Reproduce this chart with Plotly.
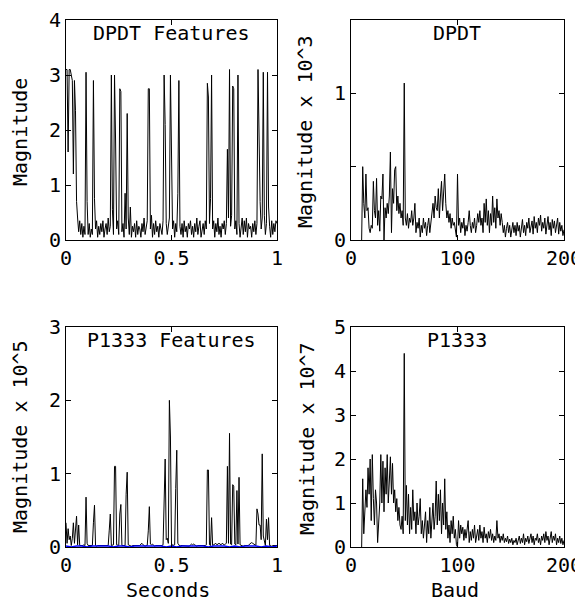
import plotly.graph_objects as go

# feature envelopes, sampled every 5 ms over one second
fs_feat = 200.0
dpdt_feat = [3.1, 3.1, 1.6, 3.1, 3.1, 3.0, 2.9, 1.2, 2.9, 2.35,
             0.7, 0.4, 0.15, 0.35, 0.1, 0.3, 0.05, 0.25, 0.1, 3.05,
             0.7, 0.1, 0.3, 0.05, 0.2, 0.1, 2.9, 0.75, 0.2, 0.35,
             0.05, 0.25, 0.1, 0.3, 0.15, 0.35, 0.05, 0.2, 0.3, 0.1,
             0.4, 0.15, 0.25, 3.0, 0.55, 0.1, 3.0, 1.8, 0.2, 0.35,
             0.1, 2.75, 2.7, 0.15, 0.3, 0.05, 0.85, 0.2, 2.3, 0.4,
             0.1, 0.6, 0.05, 0.25, 0.15, 0.3, 0.05, 0.35, 0.1, 0.25,
             0.2, 0.05, 0.3, 0.15, 0.4, 0.1, 0.25, 0.35, 2.75, 2.75,
             0.2, 0.45, 0.05, 0.3, 0.1, 0.35, 0.15, 0.25, 0.05, 0.3,
             0.2, 0.1, 0.35, 3.0, 2.1, 0.3, 0.1, 0.25, 0.4, 3.0,
             1.55, 0.2, 0.35, 0.05, 0.3, 0.15, 0.85, 2.9, 0.25, 0.1,
             0.3, 0.05, 0.35, 0.15, 0.25, 0.05, 0.3, 0.2, 0.35, 0.1,
             0.25, 0.05, 0.3, 0.15, 0.4, 0.1, 0.25, 0.35, 0.05, 0.2,
             0.3, 0.1, 0.35, 0.2, 2.85, 2.6, 0.3, 0.75, 3.0, 0.2,
             0.35, 0.05, 0.3, 0.15, 0.4, 0.1, 0.25, 0.05, 0.3, 0.2,
             0.35, 0.1, 0.3, 1.65, 0.4, 3.1, 0.25, 0.45, 2.8, 2.75,
             0.2, 0.35, 0.1, 3.0, 0.3, 0.05, 0.25, 0.4, 0.1, 0.35,
             0.15, 0.4, 0.05, 0.3, 0.2, 0.25, 0.05, 0.3, 0.15, 0.35,
             0.1, 0.3, 3.1, 1.35, 0.7, 0.2, 0.4, 3.05, 0.45, 0.1,
             0.3, 3.05, 0.6, 0.25, 0.05, 0.35, 0.1, 0.3, 0.15, 0.35,
             0.3]

# x 10^5
p1333_feat = [0.33, 0.05, 0.25, 0.1, 0.15, 0.02, 0.12, 0.33, 0.05, 0.32,
              0.42, 0.03, 0.3, 0.02, 0.02, 0.01, 0.02, 0.03, 0.02, 0.68,
              0.05, 0.02, 0.02, 0.01, 0.02, 0.02, 0.33, 0.57, 0.02, 0.01,
              0.02, 0.02, 0.01, 0.02, 0.02, 0.01, 0.02, 0.02, 0.01, 0.02,
              0.02, 0.23, 0.45, 0.02, 0.02, 0.03, 1.1, 1.1, 0.03, 0.02,
              0.02, 0.45, 0.58, 0.02, 0.02, 0.03, 0.02, 0.72, 1.02, 0.03,
              0.02, 0.02, 0.01, 0.02, 0.02, 0.01, 0.02, 0.02, 0.01, 0.02,
              0.02, 0.04, 0.05, 0.03, 0.02, 0.01, 0.02, 0.02, 0.22, 0.55,
              0.04, 0.03, 0.04, 0.02, 0.01, 0.02, 0.02, 0.01, 0.02, 0.02,
              0.01, 0.02, 0.03, 0.8, 1.2, 0.1, 0.12, 0.05, 2.0, 1.5,
              0.05, 0.02, 0.02, 0.03, 0.8, 1.32, 0.05, 0.02, 0.01, 0.02,
              0.02, 0.01, 0.02, 0.02, 0.01, 0.02, 0.02, 0.01, 0.03, 0.04,
              0.03, 0.04, 0.03, 0.02, 0.01, 0.02, 0.02, 0.01, 0.02, 0.02,
              0.01, 0.02, 0.02, 0.03, 1.05, 1.05, 0.03, 0.02, 0.4, 0.02,
              0.03, 0.04, 0.05, 0.03, 0.04, 0.05, 0.04, 0.03, 0.05, 0.04,
              0.03, 0.04, 0.05, 1.1, 0.05, 1.55, 0.04, 0.03, 0.85, 0.83,
              0.04, 0.03, 0.77, 0.04, 0.95, 0.03, 0.02, 0.02, 0.01, 0.02,
              0.02, 0.01, 0.02, 0.02, 0.04, 0.05, 0.06, 0.05, 0.04, 0.02,
              0.02, 0.52, 0.45, 0.3, 0.3, 0.1, 1.27, 0.15, 0.05, 0.02,
              0.38, 0.1, 0.4, 0.02, 0.02, 0.01, 0.02, 0.02, 0.01, 0.02,
              0.02]

# reference level for P1333, every 25 ms
fs_ref = 40.0
p1333_ref = [0.015, 0.0, 0.015, 0.015, 0.0, 0.015, 0.015, 0.015, 0.015, 0.0,
             0.015, 0.015, 0.0, 0.015, 0.015, 0.015, 0.015, 0.015, 0.015, 0.0,
             0.015, 0.0, 0.015, 0.015, 0.015, 0.015, 0.015, 0.0, 0.015, 0.015,
             0.015, 0.0, 0.015, 0.0, 0.015, 0.015, 0.015, 0.0, 0.015, 0.0,
             0.015]

# spectra, 10..200 baud in 1 baud steps
baud = list(range(10, 201))
# x 10^3
dpdt_spec = [0.0, 0.5, 0.25, 0.15, 0.45, 0.2, 0.22, 0.08, 0.05, 0.1,
             0.08, 0.4, 0.2, 0.15, 0.42, 0.1, 0.2, 0.06, 0.3, 0.28,
             0.45, 0.0, 0.22, 0.15, 0.25, 0.18, 0.3, 0.6, 0.05, 0.35,
             0.25, 0.48, 0.5, 0.2, 0.3, 0.18, 0.25, 0.15, 0.2, 0.1,
             1.07, 0.15, 0.1, 0.18, 0.08, 0.15, 0.12, 0.2, 0.1, 0.15,
             0.25, 0.05, 0.12, 0.08, 0.15, 0.02, 0.1, 0.05, 0.15, 0.08,
             0.12, 0.03, 0.1, 0.15, 0.05, 0.12, 0.2, 0.25, 0.15, 0.3,
             0.22, 0.2, 0.35, 0.15, 0.3, 0.4, 0.2, 0.38, 0.45, 0.25,
             0.15, 0.2, 0.12, 0.18, 0.08, 0.15, 0.1, 0.12, 0.05, 0.02,
             0.45, 0.1, 0.15, 0.05, 0.12, 0.08, 0.15, 0.03, 0.1, 0.06,
             0.12, 0.2, 0.1, 0.05, 0.12, 0.08, 0.15, 0.05, 0.1, 0.18,
             0.12, 0.2, 0.1, 0.15, 0.05, 0.25, 0.12, 0.28, 0.1, 0.2,
             0.05, 0.18, 0.1, 0.3, 0.12, 0.22, 0.08, 0.28, 0.15, 0.2,
             0.1, 0.18, 0.12, 0.05, 0.1, 0.02, 0.08, 0.12, 0.05, 0.1,
             0.02, 0.08, 0.12, 0.05, 0.1, 0.03, 0.12, 0.06, 0.1, 0.02,
             0.08, 0.14, 0.05, 0.1, 0.03, 0.12, 0.08, 0.15, 0.05, 0.1,
             0.13, 0.04, 0.16, 0.08, 0.12, 0.05, 0.15, 0.1, 0.17, 0.06,
             0.12, 0.08, 0.15, 0.04, 0.1, 0.16, 0.07, 0.12, 0.03, 0.14,
             0.08, 0.13, 0.05, 0.1, 0.15, 0.04, 0.12, 0.06, 0.1, 0.03,
             0.07]
# x 10^7
p1333_spec = [0.0, 1.55, 0.3, 1.0, 1.3, 0.9, 1.8, 1.2, 2.0, 0.6,
              2.1, 1.1, 0.5, 1.3, 1.0, 0.1, 0.6, 1.0, 2.1, 1.0,
              1.95, 0.8, 1.8, 1.2, 2.1, 1.0, 1.5, 2.05, 1.2, 1.9,
              1.0, 1.3, 0.8, 1.1, 0.6, 0.9, 0.5, 0.4, 0.7, 0.3,
              4.4, 0.6, 1.4, 0.5, 1.2, 0.3, 0.9, 0.4, 1.3, 0.6,
              0.8, 0.3, 1.0, 0.5, 0.7, 1.1, 0.3, 0.6, 0.2, 0.5,
              0.8, 0.1, 0.6, 0.3, 0.9, 0.2, 0.5, 1.0, 0.4, 0.7,
              1.5, 0.5, 1.2, 0.6, 1.3, 0.3, 1.0, 0.5, 1.55, 0.4,
              0.8, 0.2, 0.5, 0.1, 0.6, 0.3, 0.7, 0.2, 0.4, 0.05,
              0.0, 0.6, 0.2, 0.5, 0.3, 0.45, 0.15, 0.4, 0.2, 0.5,
              0.6, 0.1, 0.35, 0.15, 0.4, 0.2, 0.5, 0.1, 0.3, 0.4,
              0.15, 0.5, 0.2, 0.35, 0.1, 0.45, 0.2, 0.3, 0.1, 0.35,
              0.2, 0.4, 0.15, 0.3, 0.1, 0.25, 0.15, 0.6, 0.2, 0.3,
              0.1, 0.25, 0.15, 0.3, 0.1, 0.2, 0.12, 0.25, 0.08, 0.18,
              0.1, 0.2, 0.05, 0.15, 0.1, 0.2, 0.05, 0.15, 0.25, 0.08,
              0.2, 0.1, 0.3, 0.05, 0.2, 0.12, 0.25, 0.08, 0.2, 0.3,
              0.1, 0.25, 0.05, 0.2, 0.15, 0.3, 0.1, 0.2, 0.05, 0.25,
              0.15, 0.3, 0.1, 0.35, 0.15, 0.25, 0.05, 0.2, 0.35, 0.1,
              0.25, 0.15, 0.3, 0.05, 0.2, 0.1, 0.25, 0.08, 0.2, 0.05,
              0.15]

t_feat = [i / fs_feat for i in range(len(dpdt_feat))]
t_ref = [i / fs_ref for i in range(len(p1333_ref))]

# page has an 8px body margin, so the figure is laid out in window pixels minus 8
PAD = 8
W, H = 583 - PAD, 604 - PAD
FONT = "DejaVu Sans Mono"


def px(x):
    return (x - PAD) / W


def py(y):
    return 1 - (y - PAD) / H


line = dict(color="black", width=1)
fig = go.Figure()
fig.add_trace(go.Scatter(x=t_feat, y=dpdt_feat, mode="lines", line=line, xaxis="x", yaxis="y"))
fig.add_trace(go.Scatter(x=baud, y=dpdt_spec, mode="lines", line=line, xaxis="x2", yaxis="y2"))
fig.add_trace(go.Scatter(x=t_feat, y=p1333_feat, mode="lines", line=line, xaxis="x3", yaxis="y3"))
fig.add_trace(go.Scatter(x=t_ref, y=p1333_ref, mode="lines", line=dict(color="blue", width=1.5),
                         xaxis="x3", yaxis="y3"))
fig.add_trace(go.Scatter(x=baud, y=p1333_spec, mode="lines", line=line, xaxis="x4", yaxis="y4"))

ax = dict(showline=True, linecolor="black", linewidth=1, mirror="allticks", ticks="inside",
          ticklen=5, tickcolor="black", showgrid=False, zeroline=False, automargin=False,
          tickfont=dict(family=FONT, size=20, color="black"))

left = [px(66), px(277)]
right = [px(351), px(564)]
top = [py(240), py(20)]
bot = [py(547), py(327)]

fig.update_layout(
    width=W, height=H,
    margin=dict(l=0, r=0, t=0, b=0),
    paper_bgcolor="white", plot_bgcolor="white",
    showlegend=False,
    font=dict(family=FONT, size=20, color="black"),
    xaxis=dict(ax, domain=left, anchor="y", range=[0, 1], tickvals=[0, 0.5, 1]),
    yaxis=dict(ax, domain=top, anchor="x", range=[0, 4], tickvals=[0, 1, 2, 3, 4]),
    xaxis2=dict(ax, domain=right, anchor="y2", range=[0, 200], tickvals=[0, 100, 200]),
    yaxis2=dict(ax, domain=top, anchor="x2", range=[0, 1.5], tickvals=[0, 0.5, 1],
                ticktext=["0", "", "1"]),
    xaxis3=dict(ax, domain=left, anchor="y3", range=[0, 1], tickvals=[0, 0.5, 1]),
    yaxis3=dict(ax, domain=bot, anchor="x3", range=[0, 3], tickvals=[0, 1, 2, 3]),
    xaxis4=dict(ax, domain=right, anchor="y4", range=[0, 200], tickvals=[0, 100, 200]),
    yaxis4=dict(ax, domain=bot, anchor="x4", range=[0, 5], tickvals=[0, 1, 2, 3, 4, 5]),
)

notes = [
    ("DPDT Features", 171, 33, 0),
    ("DPDT", 457, 33, 0),
    ("P1333 Features", 171, 340, 0),
    ("P1333", 457, 340, 0),
    ("Magnitude", 20, 132, -90),
    ("Magnitude x 10^3", 305, 132, -90),
    ("Magnitude x 10^5", 20, 437, -90),
    ("Magnitude x 10^7", 307, 439, -90),
    ("Seconds", 168, 590, 0),
    ("Baud", 455, 590, 0),
]
for text, x, y, ang in notes:
    fig.add_annotation(text=text, x=px(x), y=py(y), xref="paper", yref="paper",
                       xanchor="center", yanchor="middle", textangle=ang, showarrow=False,
                       font=dict(family=FONT, size=20, color="black"))

fig.write_html("out.html")
